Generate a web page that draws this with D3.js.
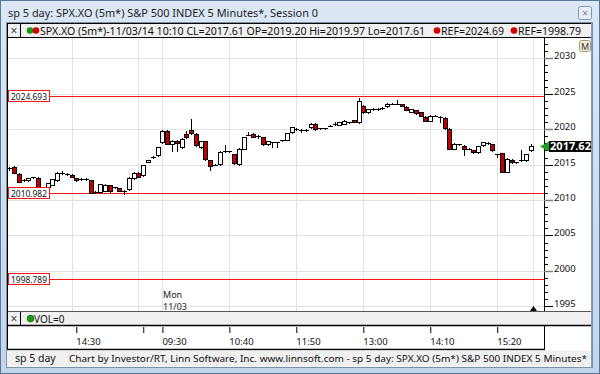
<!DOCTYPE html>
<html><head><meta charset="utf-8">
<script src="https://cdn.jsdelivr.net/npm/d3@7"></script>
<style>
html,body{margin:0;padding:0;background:#fff;}
svg{display:block;}
text{font-family:"Noto Sans","Liberation Sans",sans-serif;}
</style></head>
<body>
<script>
// ---------- data ----------
const sessionStarts = [{start:"13:20", bars:32}, {start:"09:30", bars:78}];
const opens = [
2014.50,2014.60,2013.74,2012.75,2012.80,2013.15,2013.17,2011.75,2011.87,2012.10,
2012.80,2013.80,2013.60,2013.60,2013.10,2012.95,2012.95,2012.80,2011.15,2011.10,
2011.30,2012.06,2011.75,2011.64,2011.25,2011.50,2013.04,2013.83,2013.50,2015.37,
2016.05,2016.30,2018.17,2019.70,2017.90,2018.30,2017.47,2019.33,2019.90,2019.30,
2017.47,2018.26,2015.60,2015.00,2015.04,2016.86,2016.86,2016.44,2015.04,2017.23,
2019.24,2019.33,2019.10,2018.86,2017.84,2018.17,2018.17,2018.40,2018.50,2019.56,
2020.03,2019.90,2019.90,2020.26,2020.73,2020.10,2020.10,2020.50,2020.73,2020.64,
2020.73,2020.96,2021.30,2020.96,2023.29,2022.36,2022.83,2022.83,2022.97,2023.20,
2023.62,2023.62,2023.53,2023.15,2022.45,2022.69,2022.36,2021.76,2021.20,2021.90,
2021.76,2021.57,2020.03,2017.23,2017.84,2017.60,2017.23,2017.00,2016.77,2017.70,
2018.03,2017.84,2016.44,2016.63,2013.97,2015.70,2015.30,2015.60,2015.60,2017.00];
const highs = [
2014.70,2014.75,2013.80,2012.95,2013.10,2013.30,2013.25,2011.90,2012.40,2012.95,
2013.90,2014.10,2013.75,2013.70,2013.15,2013.05,2013.05,2012.85,2011.30,2012.30,
2012.20,2012.10,2011.90,2011.70,2011.35,2013.25,2013.90,2013.90,2014.95,2015.70,
2016.20,2017.55,2019.90,2019.85,2018.40,2018.40,2018.70,2019.80,2021.43,2019.40,
2018.35,2018.30,2015.65,2015.10,2016.85,2017.70,2016.95,2016.50,2017.30,2018.95,
2019.56,2019.40,2019.15,2018.90,2018.35,2018.25,2018.25,2018.50,2019.50,2020.35,
2020.15,2020.00,2020.00,2020.80,2020.80,2020.20,2020.20,2020.60,2020.96,2021.05,
2021.25,2021.05,2021.35,2024.37,2023.40,2022.90,2022.95,2022.95,2023.10,2023.70,
2023.75,2024.08,2023.60,2023.20,2022.90,2022.75,2022.40,2021.80,2021.95,2022.00,
2021.85,2021.65,2020.10,2018.00,2017.95,2017.70,2017.35,2017.05,2017.65,2018.25,
2018.15,2017.90,2016.55,2016.70,2015.90,2015.75,2015.40,2017.00,2016.50,2017.90];
const lows = [
2014.30,2013.80,2012.50,2012.65,2012.70,2013.05,2011.55,2011.60,2011.80,2012.05,
2012.75,2013.70,2013.55,2013.20,2012.75,2012.85,2012.85,2010.98,2011.05,2011.05,
2011.25,2011.15,2011.70,2011.25,2010.90,2011.45,2012.95,2013.20,2013.45,2015.30,
2016.00,2016.25,2018.10,2017.85,2016.90,2016.90,2017.40,2018.80,2019.35,2017.60,
2017.40,2015.65,2014.30,2014.90,2015.00,2016.80,2016.80,2015.15,2014.95,2017.15,
2019.15,2018.90,2018.80,2017.75,2017.80,2017.47,2017.47,2018.30,2018.45,2019.50,
2019.95,2019.56,2019.80,2020.20,2019.95,2020.00,2020.00,2020.40,2020.65,2020.60,
2020.70,2020.90,2020.95,2020.90,2022.30,2022.30,2022.75,2022.75,2022.90,2023.15,
2023.55,2023.55,2023.25,2022.65,2022.40,2022.20,2021.85,2021.10,2021.10,2021.80,
2020.96,2020.00,2017.15,2017.15,2017.75,2016.30,2017.15,2016.65,2016.70,2017.65,
2017.95,2016.95,2016.07,2013.90,2013.90,2015.25,2015.20,2015.50,2015.55,2016.95];
const closes = [
2014.45,2013.85,2012.57,2012.80,2013.04,2013.20,2011.64,2011.80,2012.34,2012.90,
2013.83,2013.83,2013.65,2013.27,2012.80,2012.95,2012.95,2011.03,2011.17,2012.24,
2012.15,2011.22,2011.80,2011.32,2011.20,2013.17,2013.83,2013.27,2014.90,2015.60,
2016.10,2017.47,2019.80,2017.93,2018.30,2018.00,2018.63,2018.86,2019.43,2017.70,
2018.26,2015.74,2014.76,2015.00,2016.77,2016.86,2016.86,2015.23,2017.23,2018.86,
2019.24,2018.96,2018.86,2017.84,2018.30,2018.17,2018.17,2018.40,2019.43,2020.26,
2020.03,2019.90,2019.90,2020.73,2020.03,2020.10,2020.10,2020.50,2020.73,2020.96,
2021.20,2020.96,2021.00,2023.99,2022.36,2022.83,2022.83,2022.83,2022.97,2023.62,
2023.62,2023.62,2023.29,2022.69,2022.83,2022.27,2021.90,2021.20,2021.90,2021.90,
2021.76,2020.10,2017.23,2017.93,2017.84,2017.14,2017.23,2016.72,2017.56,2018.17,
2018.03,2017.00,2016.44,2013.97,2015.83,2015.30,2015.30,2015.60,2016.44,2017.61];
const refLevels = [2024.693, 2010.982, 1998.789];
const tickTimes = ["14:30","15:40","09:30","10:40","11:50","13:00","14:10","15:20"];
const tickShown = [true,false,true,true,true,true,true,true];
const gridTimes = ["14:25","15:35","09:30","10:40","11:50","13:00","14:10","15:20"];
const lastPrice = 2017.62;
const titleText = "sp 5 day: SPX.XO (5m*) S&P 500 INDEX 5 Minutes*, Session 0";
const legendText = "SPX.XO (5m*)-11/03/14 10:10 CL=2017.61 OP=2019.20 Hi=2019.97 Lo=2017.61";
const refTexts = ["REF=2024.69","REF=1998.79"];
const footerLeft = "sp 5 day";
const footerText = "Chart by Investor/RT, Linn Software, Inc. www.linnsoft.com - sp 5 day: SPX.XO (5m*) S&P 500 INDEX 5 Minutes*";

// bar time labels
const times = [];
sessionStarts.forEach((s,si)=>{
  const [h,m] = s.start.split(":").map(Number);
  for(let k=0;k<s.bars;k++){
    const t = h*60+m+5*k;
    times.push({session:si, label:String(Math.floor(t/60)).padStart(2,"0")+":"+String(t%60).padStart(2,"0")});
  }
});
function idxOf(lbl, preferSession){
  let found=-1;
  times.forEach((t,i)=>{ if(t.label===lbl && (found<0 || t.session===preferSession)) found=i; });
  return found;
}
const tickIdx = tickTimes.map((t,i)=>idxOf(t, i<2?0:1));
const gridIdx = gridTimes.map((t,i)=>idxOf(t, i<2?0:1));

// ---------- drawing ----------
const W=600,H=374;
const svg=d3.select("body").append("svg").attr("width",W).attr("height",H);

// window frame
const defs=svg.append("defs");
const g1=defs.append("linearGradient").attr("id","frame").attr("x1",0).attr("y1",0).attr("x2",0).attr("y2",1);
g1.append("stop").attr("offset","0%").attr("stop-color","#dbe7f4");
g1.append("stop").attr("offset","100%").attr("stop-color","#c2d5ec");
svg.append("rect").attr("x",0.5).attr("y",0.5).attr("width",W-1).attr("height",H-1)
  .attr("fill","url(#frame)").attr("stroke","#5a7896");
svg.append("text").attr("x",8).attr("y",17).attr("font-size",11.5).attr("fill","#1e1e1e")
  .attr("textLength",310).attr("lengthAdjust","spacingAndGlyphs").text(titleText);
// close button
svg.append("rect").attr("x",578.5).attr("y",6.5).attr("width",13).attr("height",13).attr("rx",2)
  .attr("fill","#e8eef6").attr("stroke","#7f97b5");
svg.append("text").attr("x",585).attr("y",16.5).attr("font-size",10).attr("text-anchor","middle").attr("fill","#6b7f99").text("×");

// inner panel
svg.append("rect").attr("x",7).attr("y",23).attr("width",585).attr("height",344).attr("fill","#fff");

// plot region
const PL=8, PR=544, PT=38, PB=311;
const x=d3.scaleLinear().domain([0,opens.length-1]).range([9.33,530.7]);
const y=d3.scaleLinear().domain([1995,2030]).range([306.3,58.3]);
const px=v=>Math.round(v)+0.5;

defs.append("clipPath").attr("id","plotclip").append("rect").attr("x",PL).attr("y",PT).attr("width",PR-PL).attr("height",PB-PT);
const plot=svg.append("g").attr("clip-path","url(#plotclip)");

// grid
const hGrid=d3.range(1995,2031,5);
plot.append("g").selectAll("line").data(hGrid).join("line")
  .attr("x1",PL).attr("x2",PR).attr("y1",d=>px(y(d))).attr("y2",d=>px(y(d)))
  .attr("stroke","#e2e2e2");
plot.append("g").selectAll("line").data(gridIdx).join("line")
  .attr("x1",d=>px(x(d))).attr("x2",d=>px(x(d))).attr("y1",PT).attr("y2",PB)
  .attr("stroke","#e2e2e2");
plot.append("line").attr("x1",px(x(opens.length-0.5))).attr("x2",px(x(opens.length-0.5)))
  .attr("y1",PT).attr("y2",PB).attr("stroke","#e2e2e2");

// ref lines
plot.append("g").selectAll("line").data(refLevels).join("line")
  .attr("x1",PL).attr("x2",PR).attr("y1",d=>px(y(d))).attr("y2",d=>px(y(d)))
  .attr("stroke","#f01818");

// candles
const bars=opens.map((o,i)=>({i,o,h:highs[i],l:lows[i],c:closes[i]}));
const cg=plot.append("g");
bars.forEach(b=>{
  const cx=Math.round(x(b.i));
  cg.append("line").attr("x1",cx+0.5).attr("x2",cx+0.5)
    .attr("y1",Math.round(y(b.h))).attr("y2",Math.round(y(b.l))+1).attr("stroke","#000");
  const yt=Math.round(y(Math.max(b.o,b.c))), yb=Math.round(y(Math.min(b.o,b.c)));
  if(yb-yt<2){
    cg.append("line").attr("x1",cx-2).attr("x2",cx+3).attr("y1",yt+0.5).attr("y2",yt+0.5).attr("stroke","#000");
  } else {
    cg.append("rect").attr("x",cx-1.5).attr("y",yt+0.5).attr("width",4).attr("height",yb-yt)
      .attr("fill",b.c>=b.o?"#fff":"#c00000").attr("stroke","#000");
  }
});

// ref boxes
refLevels.forEach(v=>{
  const yy=Math.round(y(v));
  svg.append("rect").attr("x",8.5).attr("y",yy-5.5).attr("width",41).attr("height",11)
    .attr("fill","#fff").attr("stroke","#f01818");
  svg.append("text").attr("x",11).attr("y",yy+3.5).attr("font-size",9.5).attr("fill","#111")
    .attr("textLength",36).attr("lengthAdjust","spacingAndGlyphs").text(v.toFixed(3));
});

// Mon 11/03 label
svg.append("text").attr("x",163).attr("y",297.5).attr("font-size",9).attr("fill","#222").text("Mon");
svg.append("text").attr("x",163).attr("y",309.5).attr("font-size",9).attr("fill","#222").text("11/03");

// cursor triangle
const tx=px(x(opens.length-0.5));
svg.append("path").attr("d",`M${tx-3.5},311 L${tx},306 L${tx+3.5},311 Z`).attr("fill","#000");

// right axis
const ax=svg.append("g");
ax.append("line").attr("x1",544.5).attr("x2",544.5).attr("y1",PT).attr("y2",PB).attr("stroke","#000");
const minor=d3.range(1995,2033,1).filter(v=>y(v)>=PT&&y(v)<=PB);
ax.append("g").selectAll("line").data(minor.filter(v=>v%5!==0)).join("line")
  .attr("x1",544).attr("x2",548).attr("y1",d=>px(y(d))).attr("y2",d=>px(y(d))).attr("stroke","#000");
ax.append("g").selectAll("line").data(hGrid).join("line")
  .attr("x1",544).attr("x2",553).attr("y1",d=>px(y(d))).attr("y2",d=>px(y(d)))
  .attr("stroke",d=>d%10===0?"#808080":"#000").attr("stroke-width",d=>d%10===0?1.5:1);
ax.append("g").selectAll("text").data(hGrid).join("text")
  .attr("x",554).attr("y",d=>Math.round(y(d))+1).attr("font-size",9.5).attr("fill","#111")
  .text(d=>d);

// last price marker
const ly=Math.round(y(lastPrice));
svg.append("path").attr("d",`M540,${ly+0.5} L549,${ly-4.5} L549,${ly+5.5} Z`).attr("fill","#1e9e1e");
svg.append("rect").attr("x",549).attr("y",ly-5).attr("width",43).attr("height",11).attr("fill","#000");
svg.append("text").attr("x",550).attr("y",ly+4).attr("font-size",10).attr("font-weight","bold").attr("fill","#fff")
  .attr("textLength",41).attr("lengthAdjust","spacingAndGlyphs").text(lastPrice.toFixed(2));

// M button
svg.append("rect").attr("x",579.5).attr("y",40.5).attr("width",11).attr("height",11).attr("rx",2)
  .attr("fill","#f3efdd").attr("stroke","#a8987a");
svg.append("text").attr("x",585).attr("y",49.5).attr("font-size",9).attr("text-anchor","middle").attr("fill","#333").text("M");

// legend bar
svg.append("rect").attr("x",7.5).attr("y",23.5).attr("width",584).attr("height",14)
  .attr("fill","#f0f0f0").attr("stroke","#000");
svg.append("line").attr("x1",20.5).attr("x2",20.5).attr("y1",24).attr("y2",37).attr("stroke","#000");
svg.append("text").attr("x",14).attr("y",34.5).attr("font-size",12).attr("text-anchor","middle").attr("fill","#444").text("×");
svg.append("circle").attr("cx",30).attr("cy",30.5).attr("r",3.3).attr("fill","#119c11");
svg.append("circle").attr("cx",36).attr("cy",30.5).attr("r",3.3).attr("fill","#d40000");
svg.append("text").attr("x",40).attr("y",34.5).attr("font-size",10).attr("fill","#111")
  .attr("textLength",385).attr("lengthAdjust","spacingAndGlyphs").text(legendText);
[[437,441,refTexts[0]],[514,518,refTexts[1]]].forEach(([cx0,tx0,t])=>{
  svg.append("circle").attr("cx",cx0).attr("cy",30.5).attr("r",3.3).attr("fill","#d40000");
  svg.append("text").attr("x",tx0).attr("y",34.5).attr("font-size",10).attr("fill","#111")
    .attr("textLength",63).attr("lengthAdjust","spacingAndGlyphs").text(t);
});

// VOL bar
svg.append("rect").attr("x",7.5).attr("y",311.5).attr("width",584).attr("height",14)
  .attr("fill","#f0f0f0").attr("stroke","#555");
svg.append("line").attr("x1",7).attr("x2",592).attr("y1",325.5).attr("y2",325.5).attr("stroke","#000").attr("stroke-width",1.5);
svg.append("line").attr("x1",20.5).attr("x2",20.5).attr("y1",312).attr("y2",325).attr("stroke","#000");
svg.append("text").attr("x",14).attr("y",322.5).attr("font-size",12).attr("text-anchor","middle").attr("fill","#444").text("×");
svg.append("circle").attr("cx",30.5).attr("cy",318.5).attr("r",3.5).attr("fill","#119c11").attr("stroke","#0a5a0a").attr("stroke-width",0.5);
svg.append("text").attr("x",34).attr("y",322.5).attr("font-size",10).attr("fill","#111").text("VOL=0");

// time axis panel
const tg=svg.append("g").attr("transform","translate(0,326)");
const xAxis=d3.axisBottom(x).tickValues(tickIdx).tickSize(6).tickPadding(0)
  .tickFormat((d,i)=>tickShown[i]?tickTimes[i]:"");
tg.call(xAxis);
tg.select(".domain").remove();
tg.selectAll(".tick line").attr("stroke","#000").attr("y1",1).attr("y2",7);
tg.selectAll(".tick text").attr("text-anchor","start").attr("dx",-0.5).attr("y",12)
  .attr("font-size",9.5).attr("font-family","Noto Sans, Liberation Sans, sans-serif").attr("fill","#111");
svg.append("line").attr("x1",7).attr("x2",545).attr("y1",349.5).attr("y2",349.5).attr("stroke","#000").attr("stroke-width",1.5);
svg.append("line").attr("x1",544.5).attr("x2",544.5).attr("y1",326).attr("y2",350).attr("stroke","#000");
svg.append("line").attr("x1",7.5).attr("x2",7.5).attr("y1",23).attr("y2",350).attr("stroke","#000");

// footer
svg.append("rect").attr("x",7).attr("y",350.5).attr("width",585).attr("height",16).attr("fill","#f0f0f0");
svg.append("text").attr("x",15).attr("y",362).attr("font-size",10.5).attr("fill","#111").text(footerLeft);
svg.append("text").attr("x",69).attr("y",362).attr("font-size",9.6).attr("fill","#111")
  .attr("textLength",518).attr("lengthAdjust","spacingAndGlyphs").text(footerText);
svg.append("line").attr("x1",591.5).attr("x2",591.5).attr("y1",23).attr("y2",367).attr("stroke","#8a9bb0");
svg.append("rect").attr("x",6.5).attr("y",22.5).attr("width",586).attr("height",345).attr("fill","none").attr("stroke","#7891ad");
</script>
</body></html>
